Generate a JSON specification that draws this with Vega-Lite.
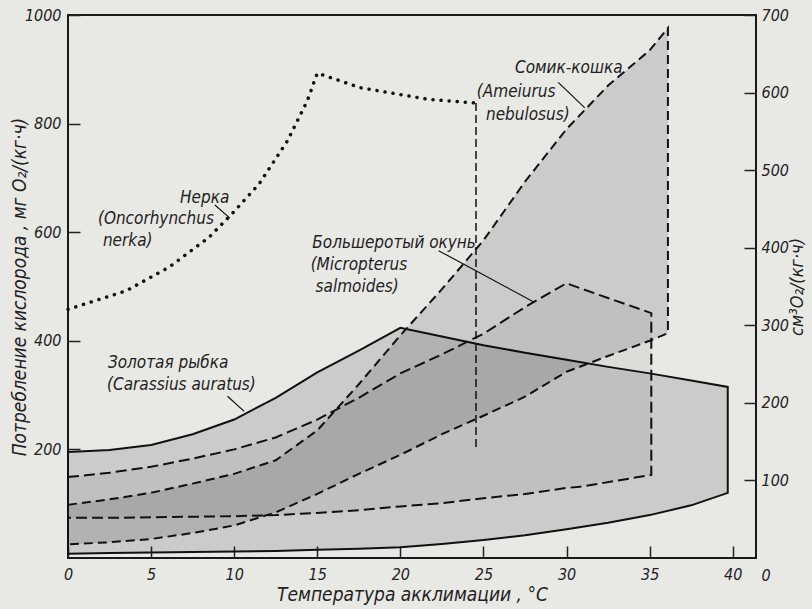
{
  "$schema": "https://vega.github.io/schema/vega-lite/v6.json",
  "width": 688,
  "height": 543,
  "autosize": "none",
  "padding": {"left": 68, "top": 15, "right": 56, "bottom": 51},
  "background": "#e8e8e5",
  "config": {
    "view": {"stroke": "#1a1a1a", "strokeWidth": 2},
    "font": "DejaVu Sans Condensed, Liberation Sans Narrow, DejaVu Sans",
    "axis": {
      "labelFont": "DejaVu Sans Condensed, Liberation Sans Narrow, DejaVu Sans",
      "labelFontStyle": "italic",
      "labelFontSize": 16,
      "labelColor": "#222",
      "labelFlush": false,
      "labelOverlap": false,
      "titleFont": "DejaVu Sans Condensed, Liberation Sans Narrow, DejaVu Sans",
      "titleFontStyle": "italic",
      "titleFontWeight": "normal",
      "titleFontSize": 19,
      "titleColor": "#222",
      "domain": false,
      "grid": false,
      "tickColor": "#222",
      "tickWidth": 1.5,
      "tickSize": -12
    }
  },
  "datasets": {
    "goldfish": [
      {"T": 0, "lo": 8, "hi": 195},
      {"T": 2.5, "lo": 9, "hi": 199},
      {"T": 5, "lo": 10, "hi": 208},
      {"T": 7.5, "lo": 11, "hi": 228},
      {"T": 10, "lo": 12, "hi": 255},
      {"T": 12.5, "lo": 13, "hi": 295},
      {"T": 15, "lo": 15, "hi": 342},
      {"T": 17.5, "lo": 17, "hi": 382},
      {"T": 20, "lo": 20, "hi": 424},
      {"T": 22.5, "lo": 26, "hi": 408},
      {"T": 25, "lo": 33, "hi": 392},
      {"T": 27.5, "lo": 42, "hi": 378},
      {"T": 30, "lo": 53, "hi": 365},
      {"T": 32.5, "lo": 65, "hi": 352},
      {"T": 35, "lo": 79, "hi": 340},
      {"T": 37.5, "lo": 97, "hi": 327},
      {"T": 39.7, "lo": 120, "hi": 315}
    ],
    "catfish": [
      {"T": 0, "lo": 25, "hi": 98},
      {"T": 2.5, "lo": 29, "hi": 108},
      {"T": 5, "lo": 35, "hi": 120},
      {"T": 7.5, "lo": 46, "hi": 137},
      {"T": 10, "lo": 60, "hi": 155},
      {"T": 12.5, "lo": 84, "hi": 180},
      {"T": 15, "lo": 118, "hi": 235},
      {"T": 17.5, "lo": 155, "hi": 320},
      {"T": 20, "lo": 190, "hi": 410},
      {"T": 22.5, "lo": 228, "hi": 495},
      {"T": 25, "lo": 262, "hi": 585},
      {"T": 27.5, "lo": 297, "hi": 693},
      {"T": 30, "lo": 343, "hi": 790},
      {"T": 32.5, "lo": 372, "hi": 870},
      {"T": 35, "lo": 400, "hi": 935},
      {"T": 36.1, "lo": 414, "hi": 976}
    ],
    "bass": [
      {"T": 0, "lo": 74, "hi": 149},
      {"T": 2.5, "lo": 74, "hi": 157},
      {"T": 5, "lo": 75, "hi": 168},
      {"T": 7.5, "lo": 76, "hi": 183},
      {"T": 10, "lo": 77, "hi": 200},
      {"T": 12.5, "lo": 79, "hi": 222},
      {"T": 15, "lo": 83, "hi": 255},
      {"T": 17.5, "lo": 88, "hi": 295},
      {"T": 20, "lo": 95, "hi": 340},
      {"T": 22.5, "lo": 101, "hi": 375},
      {"T": 25, "lo": 110, "hi": 413},
      {"T": 27.5, "lo": 118, "hi": 462},
      {"T": 30, "lo": 129, "hi": 506},
      {"T": 30.8, "lo": 131, "hi": 497},
      {"T": 35.1, "lo": 153, "hi": 451}
    ],
    "sockeye": [
      {"T": 0, "V": 458},
      {"T": 3.5, "V": 492},
      {"T": 6.1, "V": 536},
      {"T": 8.5, "V": 591},
      {"T": 9.9, "V": 635},
      {"T": 11.5, "V": 689},
      {"T": 13.2, "V": 768},
      {"T": 14.4, "V": 842},
      {"T": 15, "V": 893},
      {"T": 17.6, "V": 866},
      {"T": 21.6, "V": 845},
      {"T": 24.5, "V": 838}
    ],
    "limit": [
      {"T": 24.55, "V": 838, "V2": 204}
    ],
    "leaders": [
      {"T": 9.6, "V": 298, "T2": 10.6, "V2": 270},
      {"T": 8.84, "V": 650, "T2": 9.74, "V2": 626},
      {"T": 22.3, "V": 566, "T2": 28.0, "V2": 472},
      {"T": 29.5, "V": 876, "T2": 31.1, "V2": 829}
    ],
    "labels": [
      {"T": 6.74, "V": 663, "label": "Нерка"},
      {"T": 1.8, "V": 624, "label": "(Oncorhynchus"},
      {"T": 2.1, "V": 584, "label": "nerka)"},
      {"T": 26.9, "V": 902, "label": "Сомик-кошка"},
      {"T": 24.6, "V": 858, "label": "(Ameiurus"},
      {"T": 25.15, "V": 815, "label": "nebulosus)"},
      {"T": 14.7, "V": 580, "label": "Большеротый окунь"},
      {"T": 14.6, "V": 540, "label": "(Micropterus"},
      {"T": 14.9, "V": 499, "label": "salmoides)"},
      {"T": 2.4, "V": 359, "label": "Золотая рыбка"},
      {"T": 2.35, "V": 319, "label": "(Carassius auratus)"}
    ],
    "rightAxis": [
      {"c": 0},
      {"c": 700}
    ]
  },
  "layer": [
    {
      "layer": [
        {
          "data": {"name": "goldfish"},
          "mark": {"type": "area", "fill": "#000", "fillOpacity": 0.12, "stroke": "#111", "strokeWidth": 2},
          "encoding": {
            "x": {"field": "T", "type": "quantitative", "scale": {"domain": [0, 41.4], "nice": false, "zero": false},
                  "axis": {"values": [0, 5, 10, 15, 20, 25, 30, 35, 40], "title": "Температура акклимации , °С", "labelPadding": 20, "titlePadding": 3}},
            "y": {"field": "hi", "type": "quantitative", "scale": {"domain": [0, 1000], "nice": false},
                  "axis": {"orient": "left", "values": [200, 400, 600, 800, 1000], "format": "d", "title": "Потребление кислорода , мг O₂/(кг·ч)", "labelPadding": 19, "titlePadding": -5}},
            "y2": {"field": "lo"}
          }
        },
        {
          "data": {"name": "catfish"},
          "mark": {"type": "area", "fill": "#000", "fillOpacity": 0.12, "stroke": "#111", "strokeWidth": 2, "strokeDash": [9, 5]},
          "encoding": {
            "x": {"field": "T", "type": "quantitative", "scale": {"domain": [0, 41.4], "nice": false, "zero": false},
                  "axis": {"values": [0, 5, 10, 15, 20, 25, 30, 35, 40], "title": "Температура акклимации , °С", "labelPadding": 20, "titlePadding": 3}},
            "y": {"field": "hi", "type": "quantitative", "scale": {"domain": [0, 1000], "nice": false},
                  "axis": {"orient": "left", "values": [200, 400, 600, 800, 1000], "format": "d", "title": "Потребление кислорода , мг O₂/(кг·ч)", "labelPadding": 19, "titlePadding": -5}},
            "y2": {"field": "lo"}
          }
        },
        {
          "data": {"name": "bass"},
          "mark": {"type": "area", "fill": "#000", "fillOpacity": 0.05, "stroke": "#111", "strokeWidth": 2, "strokeDash": [11, 5]},
          "encoding": {
            "x": {"field": "T", "type": "quantitative", "scale": {"domain": [0, 41.4], "nice": false, "zero": false},
                  "axis": {"values": [0, 5, 10, 15, 20, 25, 30, 35, 40], "title": "Температура акклимации , °С", "labelPadding": 20, "titlePadding": 3}},
            "y": {"field": "hi", "type": "quantitative", "scale": {"domain": [0, 1000], "nice": false},
                  "axis": {"orient": "left", "values": [200, 400, 600, 800, 1000], "format": "d", "title": "Потребление кислорода , мг O₂/(кг·ч)", "labelPadding": 19, "titlePadding": -5}},
            "y2": {"field": "lo"}
          }
        },
        {
          "data": {"name": "sockeye"},
          "mark": {"type": "line", "stroke": "#111", "strokeWidth": 3.5, "strokeDash": [0.1, 8], "strokeCap": "round"},
          "encoding": {
            "x": {"field": "T", "type": "quantitative", "scale": {"domain": [0, 41.4], "nice": false, "zero": false},
                  "axis": {"values": [0, 5, 10, 15, 20, 25, 30, 35, 40], "title": "Температура акклимации , °С", "labelPadding": 20, "titlePadding": 3}},
            "y": {"field": "V", "type": "quantitative", "scale": {"domain": [0, 1000], "nice": false},
                  "axis": {"orient": "left", "values": [200, 400, 600, 800, 1000], "format": "d", "title": "Потребление кислорода , мг O₂/(кг·ч)", "labelPadding": 19, "titlePadding": -5}}
          }
        },
        {
          "data": {"name": "limit"},
          "mark": {"type": "rule", "stroke": "#111", "strokeWidth": 1.5, "strokeDash": [8, 4]},
          "encoding": {
            "x": {"field": "T", "type": "quantitative", "scale": {"domain": [0, 41.4], "nice": false, "zero": false},
                  "axis": {"values": [0, 5, 10, 15, 20, 25, 30, 35, 40], "title": "Температура акклимации , °С", "labelPadding": 20, "titlePadding": 3}},
            "y": {"field": "V", "type": "quantitative", "scale": {"domain": [0, 1000], "nice": false},
                  "axis": {"orient": "left", "values": [200, 400, 600, 800, 1000], "format": "d", "title": "Потребление кислорода , мг O₂/(кг·ч)", "labelPadding": 19, "titlePadding": -5}},
            "y2": {"field": "V2"}
          }
        },
        {
          "data": {"name": "leaders"},
          "mark": {"type": "rule", "stroke": "#111", "strokeWidth": 1.2},
          "encoding": {
            "x": {"field": "T", "type": "quantitative", "scale": {"domain": [0, 41.4], "nice": false, "zero": false},
                  "axis": {"values": [0, 5, 10, 15, 20, 25, 30, 35, 40], "title": "Температура акклимации , °С", "labelPadding": 20, "titlePadding": 3}},
            "y": {"field": "V", "type": "quantitative", "scale": {"domain": [0, 1000], "nice": false},
                  "axis": {"orient": "left", "values": [200, 400, 600, 800, 1000], "format": "d", "title": "Потребление кислорода , мг O₂/(кг·ч)", "labelPadding": 19, "titlePadding": -5}},
            "x2": {"field": "T2"},
            "y2": {"field": "V2"}
          }
        },
        {
          "data": {"name": "labels"},
          "mark": {"type": "text", "align": "left", "baseline": "middle", "fontSize": 17, "fontStyle": "italic", "color": "#222", "font": "DejaVu Sans Condensed, Liberation Sans Narrow, DejaVu Sans"},
          "encoding": {
            "x": {"field": "T", "type": "quantitative", "scale": {"domain": [0, 41.4], "nice": false, "zero": false},
                  "axis": {"values": [0, 5, 10, 15, 20, 25, 30, 35, 40], "title": "Температура акклимации , °С", "labelPadding": 20, "titlePadding": 3}},
            "y": {"field": "V", "type": "quantitative", "scale": {"domain": [0, 1000], "nice": false},
                  "axis": {"orient": "left", "values": [200, 400, 600, 800, 1000], "format": "d", "title": "Потребление кислорода , мг O₂/(кг·ч)", "labelPadding": 19, "titlePadding": -5}},
            "text": {"field": "label"}
          }
        }
      ]
    },
    {
      "data": {"name": "rightAxis"},
      "mark": {"type": "point", "opacity": 0},
      "encoding": {
        "y": {"field": "c", "type": "quantitative", "scale": {"domain": [0, 700], "nice": false},
              "axis": {"orient": "right", "values": [0, 100, 200, 300, 400, 500, 600, 700], "title": "см³O₂/(кг·ч)", "titleAngle": -90, "titleFontSize": 18, "labelPadding": 17, "titlePadding": 18,
                       "labelOffset": {"condition": {"test": "datum.value === 0", "value": 17}, "value": 0},
                       "tickOpacity": {"condition": {"test": "datum.value === 0", "value": 0}, "value": 1}}}
      }
    }
  ],
  "resolve": {"scale": {"y": "independent"}, "axis": {"y": "independent"}}
}
